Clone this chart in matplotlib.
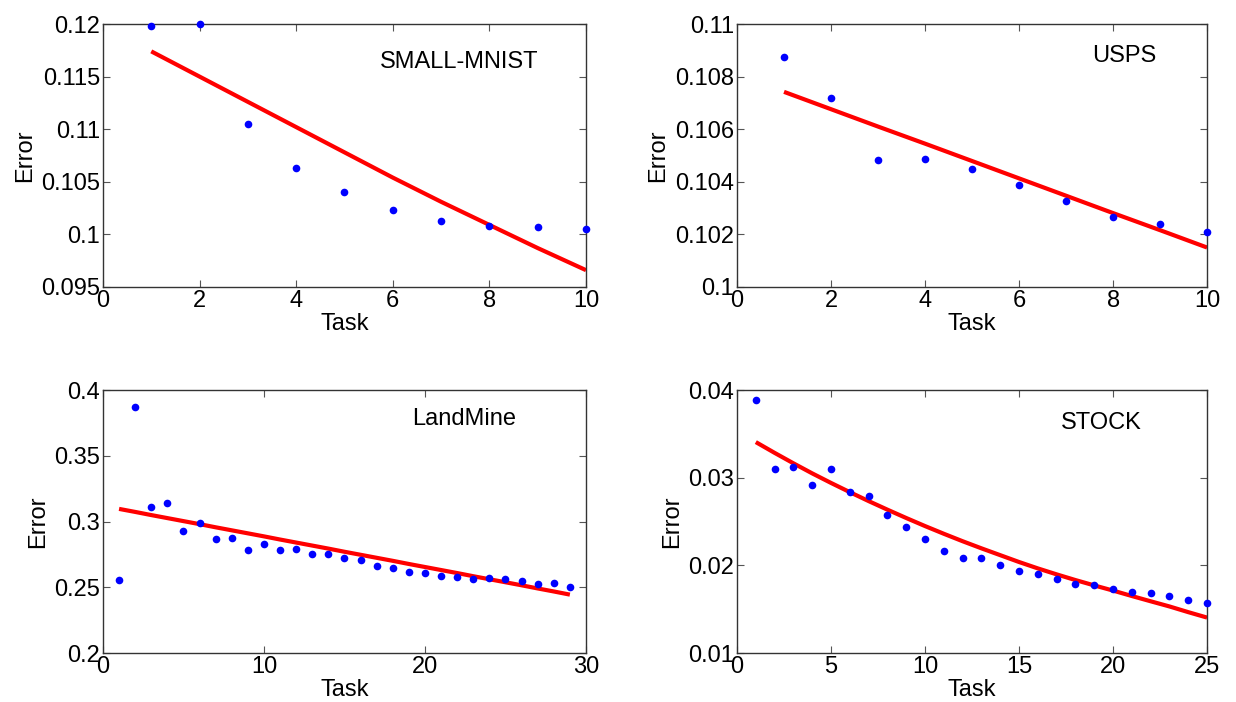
import numpy as np
import matplotlib.pyplot as plt
from matplotlib.ticker import FuncFormatter

plt.rcParams['font.family'] = ['Liberation Sans', 'DejaVu Sans']

# SMALL-MNIST
mnist_task = list(range(1, 11))
mnist_err = [0.11984, 0.1200, 0.11051, 0.10633, 0.10407, 0.10233, 0.10131, 0.10081, 0.10071, 0.10049]
mnist_fit = [0.1174, 0.1150, 0.1126, 0.1102, 0.1078, 0.1054, 0.1031, 0.1009, 0.0987, 0.0966]

# USPS
usps_task = list(range(1, 11))
usps_err = [0.10874, 0.10717, 0.10481, 0.10485, 0.10449, 0.10386, 0.10327, 0.10265, 0.10241, 0.10209]
usps_fit = [0.10742, 0.10676, 0.10610, 0.10545, 0.10479, 0.10413, 0.10347, 0.10281, 0.10216, 0.10150]

# LandMine
land_task = list(range(1, 30))
land_err = [0.2558, 0.3873, 0.3112, 0.3140, 0.2931, 0.2990, 0.2868, 0.2873, 0.2782, 0.2827,
            0.2782, 0.2792, 0.2751, 0.2756, 0.2721, 0.2706, 0.2662, 0.2647, 0.2619, 0.2612,
            0.2586, 0.2579, 0.2563, 0.2571, 0.2561, 0.2548, 0.2525, 0.2533, 0.2505]
land_fit = [0.3096, 0.3073, 0.3049, 0.3026, 0.3003, 0.2980, 0.2956, 0.2933, 0.2910, 0.2887,
            0.2863, 0.2840, 0.2817, 0.2794, 0.2770, 0.2747, 0.2724, 0.2701, 0.2677, 0.2654,
            0.2631, 0.2608, 0.2584, 0.2561, 0.2538, 0.2515, 0.2491, 0.2468, 0.2444]

# STOCK
stock_task = list(range(1, 26))
stock_err = [0.03886, 0.03094, 0.03117, 0.02911, 0.03102, 0.02839, 0.02789, 0.02580, 0.02439, 0.02298,
             0.02169, 0.02089, 0.02089, 0.02009, 0.01940, 0.01898, 0.01841, 0.01792, 0.01773, 0.01727,
             0.01700, 0.01682, 0.01651, 0.01602, 0.01575]
stock_fit = [0.03406, 0.03283, 0.03164, 0.03049, 0.02940, 0.02835, 0.02733, 0.02635, 0.02540, 0.02448,
             0.02360, 0.02275, 0.02194, 0.02116, 0.02038, 0.01965, 0.01897, 0.01832, 0.01771, 0.01712,
             0.01650, 0.01590, 0.01531, 0.01466, 0.01404]

panels = [
    (mnist_task, mnist_err, mnist_fit, 'SMALL-MNIST', (5.73, 0.1164), (0, 10), np.arange(0, 11, 2), (0.095, 0.12), np.linspace(0.095, 0.12, 6)),
    (usps_task, usps_err, usps_fit, 'USPS', (7.55, 0.1088), (0, 10), np.arange(0, 11, 2), (0.1, 0.11), np.linspace(0.1, 0.11, 6)),
    (land_task, land_err, land_fit, 'LandMine', (19.2, 0.378), (0, 30), np.arange(0, 31, 10), (0.2, 0.4), np.linspace(0.2, 0.4, 5)),
    (stock_task, stock_err, stock_fit, 'STOCK', (17.2, 0.03625), (0, 25), np.arange(0, 26, 5), (0.01, 0.04), np.linspace(0.01, 0.04, 4)),
]

positions = [
    [0.0833, 0.5912, 0.3908, 0.3746],
    [0.5963, 0.5912, 0.3803, 0.3746],
    [0.0833, 0.0698, 0.3908, 0.3746],
    [0.5963, 0.0698, 0.3803, 0.3746],
]

fig = plt.figure(figsize=(12.36, 7.02), dpi=100)

for pos, (tx, err, fit, name, tpos, xl, xt, yl, yt) in zip(positions, panels):
    ax = fig.add_axes(pos)
    ax.plot(tx, fit, color='red', lw=3, zorder=2, solid_capstyle='butt')
    ax.plot(tx, err, 'o', color='blue', markersize=5.5, markeredgewidth=0, zorder=3, clip_on=False)
    ax.text(tpos[0], tpos[1], name, fontsize=17, va='center', ha='left')
    ax.set_xlim(xl)
    ax.set_ylim(yl)
    ax.set_xticks(xt)
    ax.set_yticks(yt)
    ax.yaxis.set_major_formatter(FuncFormatter(lambda v, p: '%g' % round(v, 6)))
    ax.xaxis.set_major_formatter(FuncFormatter(lambda v, p: '%g' % v))
    ax.tick_params(direction='in', length=5, width=0.8, color='#555555', labelsize=17,
                   top=True, right=True, pad=2)
    for s in ax.spines.values():
        s.set_color('#333333')
        s.set_linewidth(1)
    ax.set_xlabel('Task', fontsize=17, labelpad=1)
    ax.set_ylabel('Error', fontsize=17, labelpad=4)

plt.savefig('out.png')
